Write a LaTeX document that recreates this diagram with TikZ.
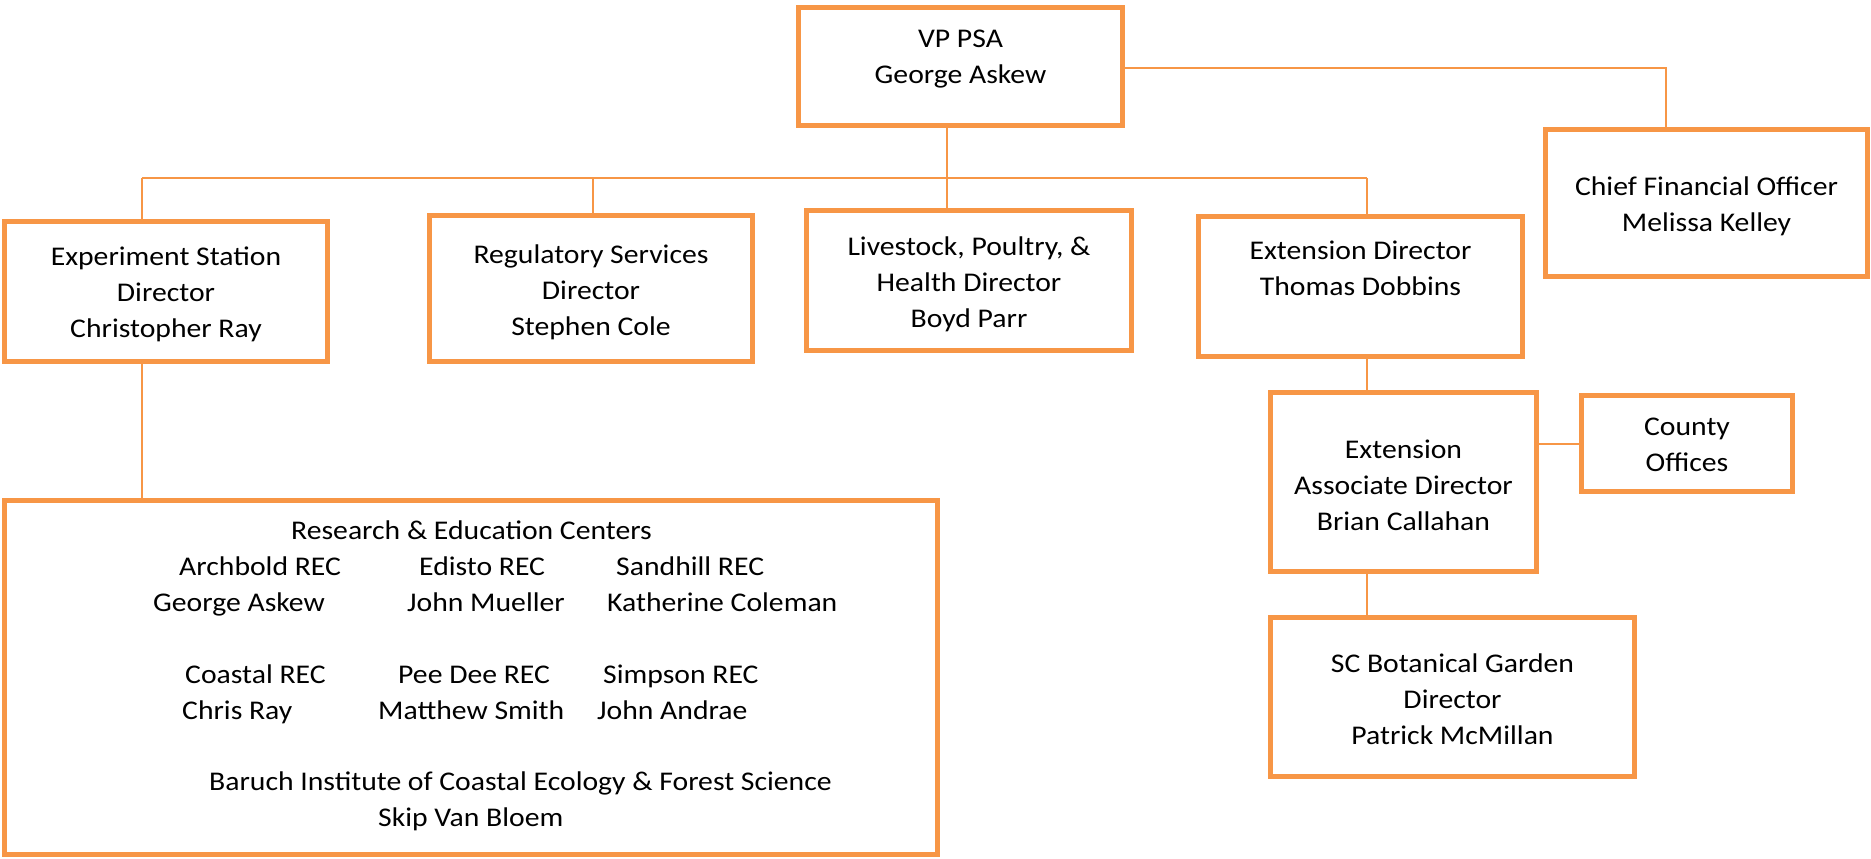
\documentclass[tikz,border=0pt]{standalone}
\usepackage{fontspec}
\setmainfont{Carlito}[FakeStretch=1.1]
\usepackage{tikz}
\usepackage{xcolor}
\usetikzlibrary{positioning}
\definecolor{psaorange}{HTML}{F79646}

\begin{document}
\begin{tikzpicture}[x=1pt, y=-1pt,
    box/.style={draw=psaorange, line width=5pt, fill=white, inner sep=0pt, outer sep=0pt},
    link/.style={draw=psaorange, line width=2pt},
    txt/.style={font={\fontsize{27}{36}\selectfont}, align=center, inner sep=0pt, anchor=north},
    rectxt/.style={font={\fontsize{27}{36}\selectfont}, inner sep=0pt, anchor=base west}]
    \useasboundingbox (0, 0) rectangle (1871, 859);
    \coordinate (busL) at (142, 178);
    \coordinate (busR) at (1367, 178);
    \coordinate (tap) at (947, 178);
    \coordinate (cfoknee) at (1666, 68);
    \draw[link] (busL) -- (busR);
    \draw[link] (tap) -- (tap |- 0, 66);
    \draw[link] (960, 68) -- (cfoknee) -- (cfoknee |- 0, 203);
    \draw[link] (busL) -- (busL |- 0, 677);
    \draw[link] (593, 178) -- (593, 288);
    \draw[link] (tap) -- (tap |- 0, 280);
    \draw[link] (busR) -- (busR |- 0, 697);
    \draw[link] (1403, 444) -- (1687, 444);
    \node[box, minimum width=324, minimum height=118] (vp) at (960.5, 66.5) {};
    \node[box, minimum width=322, minimum height=147] (cfo) at (1706.5, 203) {};
    \node[box, minimum width=323, minimum height=140] (exp) at (166, 291.5) {};
    \node[box, minimum width=323, minimum height=146] (reg) at (591, 288.5) {};
    \node[box, minimum width=325, minimum height=140] (live) at (969, 280.5) {};
    \node[box, minimum width=324, minimum height=140] (extdir) at (1360.5, 286.5) {};
    \node[box, minimum width=266, minimum height=179] (extassoc) at (1403.5, 482) {};
    \node[box, minimum width=211, minimum height=96] (county) at (1687, 443.5) {};
    \node[box, minimum width=364, minimum height=159] (garden) at (1452.5, 697) {};
    \node[box, minimum width=933, minimum height=354] (rec) at (471, 677.5) {};
    \node[txt] (vp-text) at (960.5, 29.5) {VP PSA\\George Askew};
    \node[txt] (cfo-text) at (1706.5, 176.5) {Chief Financial Officer\\Melissa Kelley};
    \node[txt] (exp-text) at (166, 247) {Experiment Station\\Director\\Christopher Ray};
    \node[txt] (reg-text) at (591, 244.5) {Regulatory Services\\Director\\Stephen Cole};
    \node[txt] (live-text) at (969, 236.5) {Livestock, Poultry, \&\\Health Director\\Boyd Parr};
    \node[txt] (extdir-text) at (1360.5, 241) {Extension Director\\Thomas Dobbins};
    \node[txt] (extassoc-text) at (1403.5, 439.5) {Extension\\Associate Director\\Brian Callahan};
    \node[txt] (county-text) at (1687, 417.5) {County\\Offices};
    \node[txt] (garden-text) at (1452.5, 653.5) {SC Botanical Garden\\Director\\Patrick McMillan};
    \node[rectxt] (rec-title) at (291, 539) {Research \& Education Centers};
    \node[rectxt] (archbold) at (179, 575) {Archbold REC};
    \node[rectxt] (edisto) at (419, 575) {Edisto REC};
    \node[rectxt] (sandhill) at (616, 575) {Sandhill REC};
    \node[rectxt] (askew) at (153, 611) {George Askew};
    \node[rectxt] (mueller) at (407, 611) {John Mueller};
    \node[rectxt] (coleman) at (607, 611) {Katherine Coleman};
    \node[rectxt] (coastal) at (185, 683) {Coastal REC};
    \node[rectxt] (peedee) at (398, 683) {Pee Dee REC};
    \node[rectxt] (simpson) at (603, 683) {Simpson REC};
    \node[rectxt] (ray) at (182, 719) {Chris Ray};
    \node[rectxt] (smith) at (378, 719) {Matthew Smith};
    \node[rectxt] (andrae) at (597, 719) {John Andrae};
    \node[rectxt] (baruch) at (209, 790) {Baruch Institute of Coastal Ecology \& Forest Science};
    \node[rectxt] (bloem) at (378, 826) {Skip Van Bloem};
\end{tikzpicture}
\end{document}
